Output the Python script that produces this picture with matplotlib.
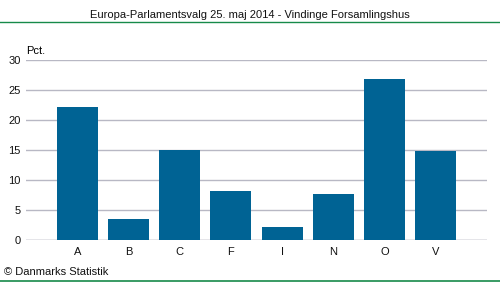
import matplotlib.pyplot as plt

partier = ['A', 'B', 'C', 'F', 'I', 'N', 'O', 'V']
pct = [22.2, 3.5, 15.0, 8.2, 2.2, 7.7, 26.8, 14.8]
yticks = [0, 5, 10, 15, 20, 25, 30]

plt.rcParams['font.family'] = ['Liberation Sans', 'DejaVu Sans']

fig = plt.figure(figsize=(5, 2.82), dpi=100)
ax = fig.add_axes([26 / 500, 1 - 240 / 282, (487 - 26) / 500, 180 / 282])

x = list(range(len(partier)))
ax.bar(x, pct, width=0.8, color='#006394', zorder=3)
ax.set_xlim(-1.0, 8.0)
ax.set_ylim(0, 30)
ax.set_yticks(yticks)
ax.set_xticks(x)
ax.set_xticklabels(partier)
ax.grid(axis='y', color='#b8b8c4', linewidth=1, zorder=0)
for s in ax.spines.values():
    s.set_visible(False)
ax.tick_params(axis='both', length=0, labelsize=8, colors='#111111')
ax.tick_params(axis='x', pad=5)
ax.tick_params(axis='y', pad=4)
ax.axhline(0, color='#b8b8c4', linewidth=1, zorder=2)

ax.text(0.0, 1.02, 'Pct.', transform=ax.transAxes, fontsize=8, ha='left', va='bottom')

fig.text(0.5, 1 - 15 / 282, 'Europa-Parlamentsvalg 25. maj 2014 - Vindinge Forsamlingshus',
         ha='center', va='center', fontsize=8, color='#111111')
fig.add_artist(plt.Line2D([0, 1], [1 - 22 / 282, 1 - 22 / 282], color='#178a4a', linewidth=1))
fig.add_artist(plt.Line2D([0, 1], [1 - 281 / 282, 1 - 281 / 282], color='#178a4a', linewidth=1.2))
fig.text(4 / 500, 1 - 272 / 282, '\u00a9 Danmarks Statistik', ha='left', va='center',
         fontsize=8, color='#111111')

fig.savefig('out.png', dpi=100)
